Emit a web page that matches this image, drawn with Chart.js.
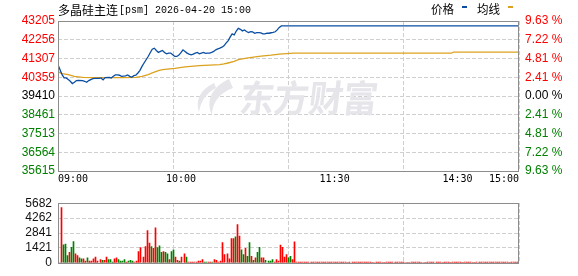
<!DOCTYPE html>
<html><head><meta charset="utf-8">
<script src="https://cdn.jsdelivr.net/npm/chart.js@4"></script>
<style>
html,body{margin:0;padding:0;background:#fff;width:578px;height:276px;overflow:hidden}
#c1{position:absolute;left:0;top:0}
#c2{position:absolute;left:0;top:190px}
</style></head><body>
<canvas id="c1" width="578" height="190"></canvas>
<canvas id="c2" width="578" height="86"></canvas>
<script>
// ---------- data ----------
const titleCjk = '多晶硅主连';
const titleLatin = '[psm] 2026-04-20 15:00';
const legendLabels = ['价格', '均线'];
const totalMinutes = 225;
const timeTickMinutes = [0, 60, 135, 195, 225];
const timeTickLabels = ['09:00', '10:00', '11:30', '14:30', '15:00'];
const prevClose = 39410;
const priceTicks = [35615, 36564, 37513, 38461, 39410, 40359, 41307, 42256, 43205];
const pctTicks = ['9.63 %', '7.22 %', '4.81 %', '2.41 %', '0.00 %', '2.41 %', '4.81 %', '7.22 %', '9.63 %'];
const volTicks = [0, 1421, 2841, 4262, 5682];

const priceMinutes = [0,1,2,3,4,5,6,7,8,9,10,12,13,14,15,16,17,18,20,21,22,23,25,26,27,28,29,30,31,
  33,34,35,36,37,38,39,40,41,42,43,44,45,46,47,48,49,50,51,52,53,54,55,56,57,58,59,60,61,62,63,64,65,66,67,68,69,70,
  71,72,73,74,75,76,77,78,79,80,81,82,83,84,85,86,87,88,89,90,91,92,93,94,95,96,97,98,99,100,101,102,103,104,105,106,107,108,109,225];
const prices = [40995,40740,40490,40325,40325,40240,40155,40040,40105,40190,40205,40190,40155,40105,40190,40240,40290,40305,40305,40325,40225,40340,40355,40325,40405,40475,40475,40460,40405,
  40425,40475,40405,40355,40440,40460,40575,40710,40910,41080,41245,41410,41600,41780,41830,41715,41615,41665,41715,41615,41545,41580,41580,41495,41410,41410,41480,41600,41745,41665,41580,41530,41495,41530,41580,41615,41545,41580,
  41615,41565,41580,41580,41615,41665,41745,41790,41830,41880,41950,42085,42200,42390,42550,42500,42700,42835,42785,42705,42755,42670,42620,42670,42650,42585,42620,42620,42600,42550,42550,42585,42585,42610,42630,42660,42755,42880,42955,42955];

const avgMinutes = [0,2,5,8,12,18,31,38,41,44,46,49,51,57,62,69,79,81,83,86,88,92,98,104,108,115,123,192,193,225];
const avgPrices = [40640,40540,40490,40405,40355,40340,40340,40355,40405,40490,40575,40690,40745,40810,40880,40945,40995,41030,41080,41160,41245,41330,41410,41475,41530,41580,41575,41575,41630,41630];

const volumes = [5270,1705,1780,700,1005,1470,2015,850,700,465,390,390,155,465,155,155,390,540,155,310,
  230,230,540,310,310,80,390,465,310,155,155,310,77,155,230,155,77,155,1075,1460,
  540,1535,3070,1870,1535,1380,3330,1460,1610,1000,1075,1000,845,310,1075,1230,540,230,155,540,
  850,540,77,77,77,77,77,155,155,310,77,77,77,77,77,310,230,77,155,1935,
  775,850,390,2320,2320,2475,3640,2550,1240,775,1390,620,1935,620,230,465,1005,1470,465,465,
  230,155,155,310,77,310,155,1700,1470,540,775,465,620,310,2010,
  80,80,80,80,80,80,80,80,80,80,80,80,80,80,80,80,80,80,80,80,80,80,80,80,80,
  0,80,80,80,80,80,80,80,80,80,80,80,0,0,80,80,80,0,0,80,80,80,80,80,80,80,80,80,
  0,0,0,80,80,80,80,80,0,0,0,80,80,80,80,80,80,80,0,80,80,80,0,80,80,80,80,80,0,
  80,80,80,80,0,0,80,80,80,80,80,80,80,80,80,80,80,80,80,80,80,80,0,80,80,80,80];
const volUp = [1,0,0,0,1,0,0,1,1,0,0,1,1,0,1,1,1,1,1,1,
  0,1,1,0,0,0,1,1,0,0,0,0,1,0,0,0,1,1,1,1,
  1,1,1,1,0,1,1,0,0,0,1,0,0,1,0,0,1,1,0,1,
  1,0,1,1,1,1,1,1,1,1,0,0,1,1,0,1,1,1,1,1,
  1,1,1,1,1,0,1,1,0,0,1,0,0,1,0,1,0,0,1,1,
  0,0,0,0,1,1,1,1,1,1,1,0,0,1,1,
  1,1,1,1,1,1,1,1,1,1,1,1,1,1,1,1,1,1,1,1,1,1,1,1,1,
  1,1,1,1,1,1,1,1,1,1,1,1,1,1,1,1,1,1,1,1,1,1,1,1,1,1,1,1,
  1,1,1,1,1,1,1,1,1,1,1,1,1,1,1,1,1,1,1,1,1,1,1,1,1,1,1,1,1,
  1,1,1,1,1,1,1,1,1,1,1,1,1,1,1,1,1,1,1,1,1,1,1,1,1,1,1];

// ---------- styles ----------
const BLUE = '#0a4ea2', ORANGE = '#dca21f', RED = '#ff0000', GREEN = '#008000';
const GRID = '#cfcfcf', FRAME = '#8c8c8c';
Chart.defaults.font.family = "'Liberation Sans', Arial, sans-serif";
Chart.defaults.font.size = 12;
Chart.defaults.animation = false;

const quarterTicks = s => { s.ticks = [0, 1, 2, 3, 4].map(k => ({ value: k * totalMinutes / 4 })); };

const framePlugin = {
  id: 'frame',
  afterDatasetsDraw(chart) {
    const { ctx, chartArea: a } = chart;
    ctx.save();
    ctx.strokeStyle = FRAME; ctx.lineWidth = 1;
    ctx.strokeRect(Math.round(a.left) + 0.5, Math.round(a.top) + 0.5,
      Math.round(a.right - a.left) - 1, Math.round(a.bottom - a.top));
    ctx.restore();
  }
};

const snapBarsPlugin = {
  id: 'snapBars',
  beforeDatasetsDraw(chart) {
    chart.getDatasetMeta(0).data.forEach(el => { el.x = Math.floor(el.x) + 0.5; });
  }
};

const headerPlugin = {
  id: 'header',
  afterDraw(chart) {
    const { ctx } = chart;
    ctx.save();
    ctx.fillStyle = '#000';
    ctx.textBaseline = 'middle';
    ctx.font = "12px 'Noto Sans CJK SC'";
    ctx.fillText(titleCjk, 58, 10, 60);
    ctx.font = "11px 'Liberation Mono'";
    ctx.fillText(titleLatin, 119, 10, titleLatin.length * 6);
    ctx.font = "12px 'Noto Sans CJK SC'";
    ctx.fillText(legendLabels[0], 431, 9, 23);
    ctx.fillText(legendLabels[1], 477, 9, 23);
    ctx.fillStyle = BLUE; ctx.fillRect(462, 6, 5, 2);
    ctx.fillStyle = ORANGE; ctx.fillRect(508, 6, 5, 2);
    ctx.restore();
  }
};

const watermarkPlugin = {
  id: 'watermark',
  beforeDatasetsDraw(chart) {
    const { ctx } = chart;
    ctx.save();
    ctx.fillStyle = '#e5e5ea';
    ctx.beginPath();
    ctx.moveTo(229, 79);
    ctx.bezierCurveTo(213, 86, 205, 100, 212, 115);
    ctx.bezierCurveTo(212, 103, 219, 93, 233, 88);
    ctx.closePath(); ctx.fill();
    ctx.beginPath();
    ctx.moveTo(214, 83);
    ctx.bezierCurveTo(200, 90, 195, 100, 199, 112);
    ctx.bezierCurveTo(201, 101, 206, 93, 216, 88);
    ctx.closePath(); ctx.fill();
    ctx.setTransform(1, 0, -0.12, 1, 0, 0);
    ctx.font = "bold 37px 'Noto Sans CJK SC'";
    ctx.textBaseline = 'middle';
    ctx.fillText('东方财富', 240 + 0.12 * 98, 98, 138);
    ctx.restore();
  }
};

const tickColor = v => v > prevClose ? RED : (v < prevClose ? GREEN : '#000');

// ---------- price chart ----------
new Chart(document.getElementById('c1'), {
  type: 'line',
  data: {
    datasets: [
      { data: priceMinutes.map((m, i) => ({ x: m, y: prices[i] })), borderColor: BLUE, borderWidth: 1.3, pointRadius: 0, tension: 0 },
      { data: avgMinutes.map((m, i) => ({ x: m, y: avgPrices[i] })), borderColor: ORANGE, borderWidth: 1.3, pointRadius: 0, tension: 0 }
    ]
  },
  options: {
    responsive: false,
    layout: { padding: { top: 21, left: 0, right: 0, bottom: 0 } },
    plugins: { legend: { display: false }, tooltip: { enabled: false } },
    scales: {
      x: {
        type: 'linear', position: 'bottom', min: 0, max: totalMinutes, offset: false,
        afterBuildTicks: s => { s.ticks = timeTickMinutes.map(v => ({ value: v })); },
        afterFit: s => { s.height = 19; },
        ticks: { autoSkip: false, maxRotation: 0, minRotation: 0, align: 'inner', padding: 2, color: '#000',
          font: { family: "'DejaVu Sans Mono'", size: 10 },
          callback: (v, i) => timeTickLabels[i] },
        grid: { display: false, drawTicks: false }, border: { display: false }
      },
      xg: {
        type: 'linear', position: 'top', min: 0, max: totalMinutes, offset: false,
        afterBuildTicks: quarterTicks,
        afterFit: s => { s.height = 0; },
        ticks: { display: false },
        grid: { color: GRID, drawTicks: false, offset: false }, border: { display: false, dash: [4, 2] }
      },
      y: {
        type: 'linear', position: 'left', min: priceTicks[0], max: priceTicks[priceTicks.length - 1],
        afterBuildTicks: s => { s.ticks = priceTicks.map(v => ({ value: v })); },
        afterFit: s => { s.width = 58; },
        ticks: { autoSkip: false, padding: 3, color: c => tickColor(c.tick.value), callback: v => String(v) },
        grid: { color: GRID, drawTicks: false }, border: { display: false, dash: [4, 2] }
      },
      y2: {
        type: 'linear', position: 'right', min: priceTicks[0], max: priceTicks[priceTicks.length - 1],
        afterBuildTicks: s => { s.ticks = priceTicks.map(v => ({ value: v })); },
        afterFit: s => { s.width = 59; },
        ticks: { autoSkip: false, padding: 6, color: c => tickColor(c.tick.value), callback: (v, i) => pctTicks[i] },
        grid: { display: false, drawTicks: false }, border: { display: false }
      }
    }
  },
  plugins: [watermarkPlugin, framePlugin, headerPlugin]
});

// ---------- volume chart ----------
new Chart(document.getElementById('c2'), {
  type: 'bar',
  data: {
    datasets: [{
      data: volumes.map((v, i) => ({ x: i + 1.5, y: v })),
      backgroundColor: volUp.map(u => u ? RED : GREEN),
      barThickness: 1, grouped: false
    }]
  },
  options: {
    responsive: false,
    layout: { padding: { top: 6, left: 0, right: 59, bottom: 6 } },
    plugins: { legend: { display: false }, tooltip: { enabled: false } },
    scales: {
      x: { type: 'linear', display: false, min: 0, max: totalMinutes, offset: false, grid: { offset: false } },
      xg: {
        type: 'linear', position: 'top', min: 0, max: totalMinutes, offset: false,
        afterBuildTicks: quarterTicks,
        afterFit: s => { s.height = 0; },
        ticks: { display: false },
        grid: { color: GRID, drawTicks: false, offset: false }, border: { display: false, dash: [4, 2] }
      },
      y: {
        type: 'linear', position: 'left', min: volTicks[0], max: volTicks[volTicks.length - 1],
        afterBuildTicks: s => { s.ticks = volTicks.map(v => ({ value: v })); },
        afterFit: s => { s.width = 58; },
        ticks: { autoSkip: false, padding: 6, color: '#111', callback: v => String(v) },
        grid: { color: GRID, drawTicks: false }, border: { display: false, dash: [4, 2] }
      }
    }
  },
  plugins: [snapBarsPlugin, framePlugin]
});
</script>
</body></html>
